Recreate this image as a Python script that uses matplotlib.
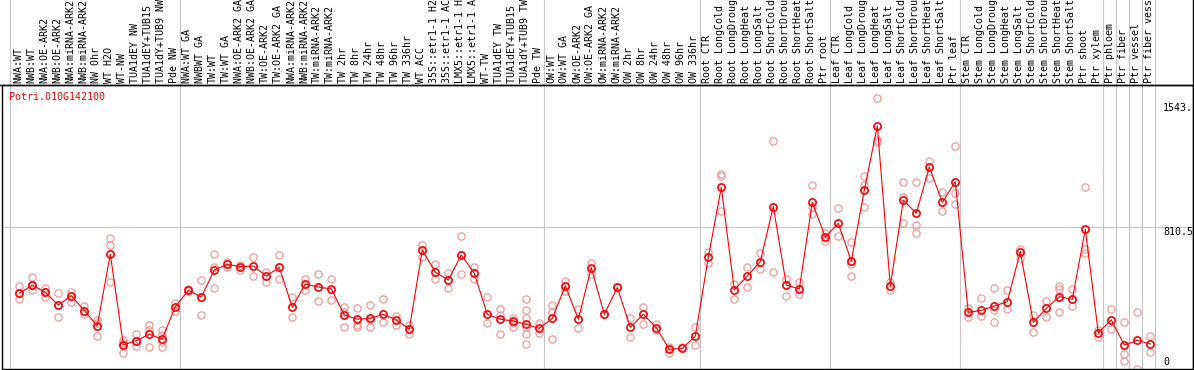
import matplotlib
matplotlib.use('agg')
import matplotlib.pyplot as plt
from matplotlib.lines import Line2D
import matplotlib.transforms as mtransforms

gene = "Potri.010G142100"

labels = [
    "NWA:WT", "NWB:WT", "NWA:OE-ARK2", "NWB:OE-ARK2", "NWA:miRNA-ARK2", "NWB:miRNA-ARK2",
    "NW 0hr", "WT H2O", "WT-NW", "TUA1dEY NW", "TUA1dEY+TUB15 NW", "TUA1dY+TUB9 NW", "Pde NW",
    "NWA:WT GA", "NWBWT GA", "TW:WT", "TW:WT GA", "NWA:OE-ARK2 GA", "NWB:OE-ARK2 GA",
    "TW:OE-ARK2", "TW:OE-ARK2 GA", "NWA:miRNA-ARK2", "NWB:miRNA-ARK2", "TW:miRNA-ARK2",
    "TW:miRNA-ARK2", "TW 2hr", "TW 8hr", "TW 24hr", "TW 48hr", "TW 96hr", "TW 336hr", "WT ACC",
    "35S::etr1-1 H2O", "35S::etr1-1 ACC", "LMX5::etr1-1 H2O", "LMX5::etr1-1 ACC", "WT-TW",
    "TUA1dEY TW", "TUA1dEY+TUB15 TW", "TUA1dY+TUB9 TW", "Pde TW",
    "OW:WT", "OW:WT GA", "OW:OE-ARK2", "OW:OE-ARK2 GA", "OW:miRNA-ARK2", "OW:miRNA-ARK2",
    "OW 2hr", "OW 8hr", "OW 24hr", "OW 48hr", "OW 96hr", "OW 336hr",
    "Root CTR", "Root LongCold", "Root LongDrought", "Root LongHeat", "Root LongSalt",
    "Root ShortCold", "Root ShortDrought", "Root ShortHeat", "Root ShortSalt", "Ptr root",
    "Leaf CTR", "Leaf LongCold", "Leaf LongDrought", "Leaf LongHeat", "Leaf LongSalt",
    "Leaf ShortCold", "Leaf ShortDrought", "Leaf ShortHeat", "Leaf ShortSalt", "Ptr leaf",
    "Stem CTR", "Stem LongCold", "Stem LongDrought", "Stem LongHeat", "Stem LongSalt",
    "Stem ShortCold", "Stem ShortDrought", "Stem ShortHeat", "Stem ShortSalt", "Ptr shoot",
    "Ptr xylem", "Ptr phloem", "Ptr fiber", "Ptr vessel", "Ptr fiber vessel",
]

group_sizes = [13, 28, 12, 10, 10, 11, 1, 1, 1, 1]

means = [
    432, 479, 438, 365, 419, 333, 247, 656, 137, 162, 198, 171, 356,
    449, 411, 565, 597, 584, 588, 531, 580, 352, 485, 468, 457, 308, 284, 289, 312, 280,
    228, 679, 552, 508, 651, 546, 312, 284, 274, 255, 232,
    289, 474, 284, 578, 312, 466, 238, 312, 236, 112, 118, 188,
    637, 1037, 451, 531, 613, 927, 479, 457, 951, 753,
    831, 616, 1020, 1387, 474, 963, 890, 1153, 951, 1069,
    323, 335, 360, 384, 670, 266, 346, 413, 398, 797, 207,
    280, 137, 164, 143,
]

reps = [
    [474, 432, 398], [523, 479, 453], [460, 438, 413], [432, 365, 295], [441, 419, 384],
    [360, 333, 312], [280, 261, 187], [746, 708, 498], [166, 147, 90], [200, 133, 162],
    [251, 223, 124], [223, 194, 156, 124], [375, 331],
    [457, 445], [508, 308], [656, 584, 464], [613, 584], [594, 565], [637, 531], [556, 495],
    [649, 514], [409, 295], [514, 451], [540, 388], [512, 394], [356, 327, 238],
    [346, 251, 242], [365, 280, 242], [400, 266], [304, 251], [251, 198], [708, 641],
    [597, 512], [546, 460], [759, 540], [580, 512], [409, 261], [342, 308, 200],
    [293, 261, 242], [398, 337, 289, 242, 198, 141], [261, 204],
    [365, 327, 169], [502, 445], [342, 232], [603, 540], [312], [466], [289, 181],
    [356, 255], [255, 223], [127, 90], [124], [238, 137],
    [670, 603], [1111, 1104, 902], [483, 398], [580, 466], [660, 569], [1301, 552],
    [514, 417], [495, 426], [1050, 927, 883], [774, 731],
    [917, 759], [723, 597, 531], [1104, 1050, 923], [1545, 1307, 1294], [498, 451],
    [1069, 984, 831], [1065, 822, 778], [1187, 1088], [1008, 902], [1273, 1003, 942],
    [350, 295], [403, 303], [460, 337, 270], [451, 341], [683, 632], [308, 209],
    [388, 295], [474, 455, 323], [457, 360], [1037, 683, 664], [223, 184],
    [342, 226], [270, 84, 48], [327, 0], [188, 99],
]

y_ticks = [1543, 810.5, 0]
y_tick_text = ["1543.", "810.5", "0"]
y_max = 1621

W, H = 1194, 370
fig = plt.figure(figsize=(W / 100, H / 100), dpi=100)
ax = fig.add_axes([2 / W, 1 / H, 1191 / W, 284 / H])

mono = "DejaVu Sans Mono"
fs = 7.2
red = "#ff0000"
pink = "#f09a9a"
grey = "#c4c4c4"

n = len(labels)
xs = list(range(n))
# pixel 19.3 -> index 0, 13 px per sample
ax.set_xlim((2 - 19.3) / 13, (1193 - 19.3) / 13)
ax.set_ylim(0, y_max)

# group separators, running up through the label band
top_ext = (284 + 86) / 284
bounds = [-0.7]
pos = -1
for g in group_sizes:
    pos += g
    bounds.append(pos + 0.36)
for b in bounds:
    ax.axvline(b, ymin=0, ymax=top_ext, color=grey, lw=0.8, clip_on=False, zorder=1)
ax.axhline(810.5, color=grey, lw=0.8, zorder=1)

for i in xs:
    ax.plot([i] * len(reps[i]), reps[i], linestyle='none', marker='o', ms=5.2,
            mfc='none', mec=pink, mew=0.9, zorder=2)
ax.plot(xs, means, color=red, lw=0.8, zorder=3)
ax.plot(xs, means, linestyle='none', marker='o', ms=5.2, mfc='none', mec=red, mew=1.2, zorder=4)

trans = mtransforms.blended_transform_factory(ax.transData, ax.transAxes)
for i, lab in enumerate(labels):
    ax.text(i - 0.08, 1 + 2 / 284, lab, transform=trans, rotation=90, ha='center', va='bottom',
            family=mono, fontsize=fs, color='black', clip_on=False)

offsets = [-9, -5, 7]
for v, t, dy in zip(y_ticks, y_tick_text, offsets):
    ax.annotate(t, xy=((1163 - 2) / 1191, v), xycoords=ax.get_yaxis_transform(),
                xytext=(0, dy), textcoords='offset pixels',
                ha='left', va='center', family=mono, fontsize=fs, color='black')

ax.text(7 / 1191, 1 - 12 / 284, gene, transform=ax.transAxes, ha='left', va='center',
        family=mono, fontsize=fs, color=red)

ax.set_xticks([])
ax.set_yticks([])
for s in ax.spines.values():
    s.set_color('black')
    s.set_linewidth(1.0)

fig.add_artist(Line2D([1192.5 / W] * 2, [0, 1], transform=fig.transFigure, color='black', lw=1.0))
fig.add_artist(Line2D([0, 1], [1 - 85 / H] * 2, transform=fig.transFigure, color='black', lw=1.0))

fig.savefig("out.png", dpi=100)
